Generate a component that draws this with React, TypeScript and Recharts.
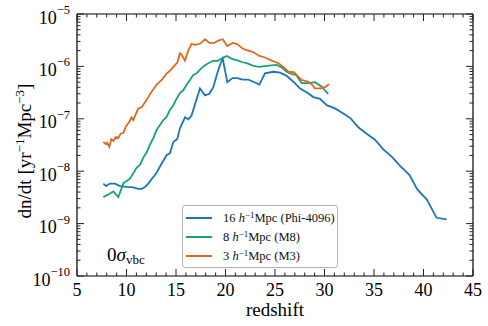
import React from "react";
import { Customized, Legend, Line, LineChart, XAxis, YAxis } from "recharts";

// redshift / rate values
const phiZ = [7.66, 7.93, 8.33, 8.84, 9.34, 10.02, 10.69, 11.19, 11.53, 11.87, 12.2, 12.54, 12.98, 13.38, 13.72, 14.06, 14.39, 14.73, 15.13, 15.4, 15.91, 16.25, 16.58, 16.92, 17.42, 17.93, 18.37, 18.77, 19.17, 19.51, 19.72, 20.18, 20.72, 21.19, 21.73, 22.31, 22.81, 23.42, 23.99, 24.83, 25.51, 26.18, 26.85, 27.53, 28.2, 28.87, 29.55, 30.22, 31.06, 31.9, 32.64, 33.41, 34.26, 35.1, 35.94, 36.79, 37.63, 38.57, 39.37, 40.32, 41.33, 42.34];
const phiRate = [5.8e-9, 5.2e-9, 5.8e-9, 5.8e-9, 5.2e-9, 5.0e-9, 4.9e-9, 4.6e-9, 4.6e-9, 5.0e-9, 5.8e-9, 7.1e-9, 8.9e-9, 1.23e-8, 1.58e-8, 2.04e-8, 2.2e-8, 3.6e-8, 4.1e-8, 6.6e-8, 1.07e-7, 9.8e-8, 1.17e-7, 1.9e-7, 3.8e-7, 2.8e-7, 3.0e-7, 4.0e-7, 7.4e-7, 1.15e-6, 1.41e-6, 5.0e-7, 6.0e-7, 6.0e-7, 5.6e-7, 5.6e-7, 5.1e-7, 4.5e-7, 7.4e-7, 7.9e-7, 7.6e-7, 6.6e-7, 5.1e-7, 3.8e-7, 3.2e-7, 2.6e-7, 2.4e-7, 1.82e-7, 1.58e-7, 1.26e-7, 1.02e-7, 6.9e-8, 5.2e-8, 4.0e-8, 2.6e-8, 1.9e-8, 1.26e-8, 8.5e-9, 4.5e-9, 2.9e-9, 1.29e-9, 1.2e-9];

const m8Z = [7.66, 8.16, 8.67, 9.17, 9.5, 9.68, 10.02, 10.35, 10.69, 11.03, 11.36, 11.7, 12.04, 12.37, 12.71, 13.05, 13.38, 13.72, 14.06, 14.39, 14.73, 15.07, 15.4, 15.74, 16.08, 16.41, 16.75, 17.09, 17.42, 17.83, 18.26, 18.77, 19.17, 19.61, 20.12, 20.72, 21.13, 21.73, 22.14, 22.81, 23.42, 24.16, 25.17, 25.68, 26.18, 26.69, 27.12, 27.7, 28.37, 29.04, 29.72, 30.05, 30.38];
const m8Rate = [3.2e-9, 3.6e-9, 4.1e-9, 3.2e-9, 4.7e-9, 5.9e-9, 6.5e-9, 7.2e-9, 9.1e-9, 1.17e-8, 1.32e-8, 1.82e-8, 2.3e-8, 3.2e-8, 4.3e-8, 6.2e-8, 7.6e-8, 9.5e-8, 1.1e-7, 1.48e-7, 1.82e-7, 2.45e-7, 3.1e-7, 3.5e-7, 4.5e-7, 5.5e-7, 6.9e-7, 7.4e-7, 8.7e-7, 1.02e-6, 1.15e-6, 1.29e-6, 1.26e-6, 1.41e-6, 1.58e-6, 1.38e-6, 1.32e-6, 1.2e-6, 1.15e-6, 1.02e-6, 9.8e-7, 1.02e-6, 1.07e-6, 9.5e-7, 7.9e-7, 7.1e-7, 6.9e-7, 4.8e-7, 4.8e-7, 5.0e-7, 4.1e-7, 3.5e-7, 3.0e-7];

const m3Z = [7.66, 7.93, 8.06, 8.27, 8.47, 8.67, 8.94, 9.17, 9.41, 9.68, 9.95, 10.28, 10.52, 10.69, 10.96, 11.19, 11.53, 12.04, 12.54, 13.05, 13.55, 13.99, 14.46, 14.9, 15.13, 15.4, 15.57, 15.91, 16.25, 16.58, 16.92, 17.42, 17.93, 18.37, 18.84, 19.28, 19.72, 20.18, 20.72, 21.13, 21.73, 22.14, 22.74, 23.42, 23.99, 24.67, 25.34, 25.84, 26.35, 26.92, 27.36, 27.7, 28.27, 28.6, 29.04, 29.72, 30.15, 30.45];
const m3Rate = [3.6e-8, 3.3e-8, 3.5e-8, 2.9e-8, 4.1e-8, 3.8e-8, 4.5e-8, 4.3e-8, 5.2e-8, 5.4e-8, 7.2e-8, 8.7e-8, 1.07e-7, 9.5e-8, 1.26e-7, 1.58e-7, 1.66e-7, 2.3e-7, 3.3e-7, 4.5e-7, 5.5e-7, 7.1e-7, 8.5e-7, 1.07e-6, 1.17e-6, 1.78e-6, 1.66e-6, 1.29e-6, 2.04e-6, 2.7e-6, 2.57e-6, 2.7e-6, 3.3e-6, 2.8e-6, 2.8e-6, 3.1e-6, 3.3e-6, 2.45e-6, 2.8e-6, 2.7e-6, 2.2e-6, 2.04e-6, 1.9e-6, 1.58e-6, 1.48e-6, 1.29e-6, 1.15e-6, 9.8e-7, 7.9e-7, 7.8e-7, 6.3e-7, 5.5e-7, 5.2e-7, 4.8e-7, 3.8e-7, 3.8e-7, 4.1e-7, 4.6e-7];

const seriesKeys = ["phi", "m8", "m3"];
const seriesNames = ["16", "8", "3"];
const seriesTags = ["(Phi-4096)", "(M8)", "(M3)"];
const colors = ["#1a76b8", "#16a27c", "#e0681a"];

const xMajor = [5, 10, 15, 20, 25, 30, 35, 40, 45];
const yExponents = [-10, -9, -8, -7, -6, -5];

const xTicks = Array.from({ length: 41 }, (_, i) => 5 + i);
const yTicks: number[] = [];
yExponents.forEach((e) => {
  yTicks.push(Math.pow(10, e));
  if (e < -5) for (let m = 2; m <= 9; m++) yTicks.push(m * Math.pow(10, e));
});

// one table sorted by redshift; each series fills its own column
const table: Record<string, number>[] = [];
[
  [phiZ, phiRate],
  [m8Z, m8Rate],
  [m3Z, m3Rate],
].forEach(([zs, rates], s) => {
  zs.forEach((z, i) => table.push({ z, [seriesKeys[s]]: rates[i] }));
});
table.sort((a, b) => a.z - b.z);

const FONT = "'Liberation Serif', 'Times New Roman', serif";
const TICK = "#222";

const isDecade = (v: number) => Math.abs(Math.log10(v) - Math.round(Math.log10(v))) < 1e-6;

function BottomTick(props: any) {
  const { x, y, payload } = props;
  const major = xMajor.includes(payload.value);
  return (
    <g>
      <line x1={x} x2={x} y1={y} y2={y - (major ? 7 : 3.5)} stroke={TICK} strokeWidth={1} />
      {major && (
        <text x={x} y={y + 20} textAnchor="middle" fontFamily={FONT} fontSize={18} fill="#000">
          {payload.value}
        </text>
      )}
    </g>
  );
}

function TopTick(props: any) {
  const { x, y, payload } = props;
  const major = xMajor.includes(payload.value);
  return <line x1={x} x2={x} y1={y} y2={y + (major ? 7 : 3.5)} stroke={TICK} strokeWidth={1} />;
}

function LeftTick(props: any) {
  const { x, y, payload } = props;
  const major = isDecade(payload.value);
  const exp = Math.round(Math.log10(payload.value));
  return (
    <g>
      <line x1={x} x2={x + (major ? 7 : 3.5)} y1={y} y2={y} stroke={TICK} strokeWidth={1} />
      {major && (
        <text x={x - 7} y={y + 9.5} textAnchor="end" fontFamily={FONT} fontSize={18} fill="#000">
          10
          <tspan dy={-9.5} fontSize={12.5}>
            {"\u2212" + Math.abs(exp)}
          </tspan>
        </text>
      )}
    </g>
  );
}

function RightTick(props: any) {
  const { x, y, payload } = props;
  const major = isDecade(payload.value);
  return <line x1={x} x2={x - (major ? 7 : 3.5)} y1={y} y2={y} stroke={TICK} strokeWidth={1} />;
}

function YLabel(props: any) {
  const vb = props.viewBox;
  const cx = vb.x + 24;
  const cy = vb.y + vb.height / 2 + 6;
  return (
    <text x={cx} y={cy} textAnchor="middle" transform={`rotate(-90, ${cx}, ${cy})`} fontFamily={FONT} fontSize={19} fill="#000">
      dn/dt [yr
      <tspan dy={-7} fontSize={13}>{"\u22121"}</tspan>
      <tspan dy={7}>Mpc</tspan>
      <tspan dy={-7} fontSize={13}>{"\u22123"}</tspan>
      <tspan dy={7}>]</tspan>
    </text>
  );
}

function XLabel(props: any) {
  const vb = props.viewBox;
  return (
    <text x={vb.x + vb.width / 2} y={vb.y + 40} textAnchor="middle" fontFamily={FONT} fontSize={19} fill="#000">
      redshift
    </text>
  );
}

function Annotation() {
  return (
    <text x={107} y={261} fontFamily={FONT} fontSize={19} fill="#000">
      0<tspan fontStyle="italic">σ</tspan>
      <tspan dy={3} fontSize={13}>vbc</tspan>
    </text>
  );
}

function LegendBox() {
  return (
    <div
      style={{
        width: 156,
        height: 63,
        boxSizing: "border-box",
        border: "1px solid #b5b5b5",
        borderRadius: 3,
        background: "#fff",
        paddingTop: 2,
        fontFamily: FONT,
        fontSize: 12.5,
        color: "#111",
      }}
    >
      {seriesNames.map((n, i) => (
        <div key={n} style={{ display: "flex", alignItems: "center", height: 19.3 }}>
          <span style={{ display: "inline-block", marginLeft: 3, width: 26, height: 2, background: colors[i] }} />
          <span style={{ marginLeft: 11, whiteSpace: "nowrap" }}>
            {n} <i>h</i>
            <sup style={{ fontSize: 9, verticalAlign: 4 }}>{"\u22121"}</sup>Mpc {seriesTags[i]}
          </span>
        </div>
      ))}
    </div>
  );
}

export default function App() {
  return (
    <div style={{ position: "absolute", left: 0, top: 0, background: "#fff" }}>
      <LineChart width={488} height={326} data={table} margin={{ top: 13, right: 14, bottom: 20, left: 7 }}>
        <XAxis
          dataKey="z"
          type="number"
          domain={[5, 45]}
          ticks={xTicks}
          interval={0}
          tick={<BottomTick />}
          tickSize={0}
          tickMargin={0}
          height={30}
          axisLine={{ stroke: "#000", strokeWidth: 1.2 }}
          label={{ content: <XLabel /> }}
        />
        <XAxis
          xAxisId="top"
          dataKey="z"
          orientation="top"
          type="number"
          domain={[5, 45]}
          ticks={xTicks}
          interval={0}
          tick={<TopTick />}
          tickSize={0}
          tickMargin={0}
          height={1}
          axisLine={{ stroke: "#000", strokeWidth: 1.2 }}
        />
        <YAxis
          type="number"
          scale="log"
          domain={[1e-10, 1e-5]}
          allowDataOverflow
          ticks={yTicks}
          interval={0}
          tick={<LeftTick />}
          tickSize={0}
          tickMargin={0}
          width={70}
          axisLine={{ stroke: "#000", strokeWidth: 1.2 }}
          label={{ content: <YLabel /> }}
        />
        <YAxis
          yAxisId="right"
          orientation="right"
          type="number"
          scale="log"
          domain={[1e-10, 1e-5]}
          allowDataOverflow
          ticks={yTicks}
          interval={0}
          tick={<RightTick />}
          tickSize={0}
          tickMargin={0}
          width={1}
          axisLine={{ stroke: "#000", strokeWidth: 1.2 }}
        />
        {seriesKeys.map((k, i) => (
          <Line
            key={k}
            dataKey={k}
            connectNulls
            stroke={colors[i]}
            strokeWidth={1.8}
            dot={false}
            isAnimationActive={false}
          />
        ))}
        <Legend
          layout="vertical"
          align="center"
          verticalAlign="middle"
          content={<LegendBox />}
          wrapperStyle={{ left: 182, top: 205, width: 156 }}
        />
        <Customized component={<Annotation />} />
      </LineChart>
    </div>
  );
}
